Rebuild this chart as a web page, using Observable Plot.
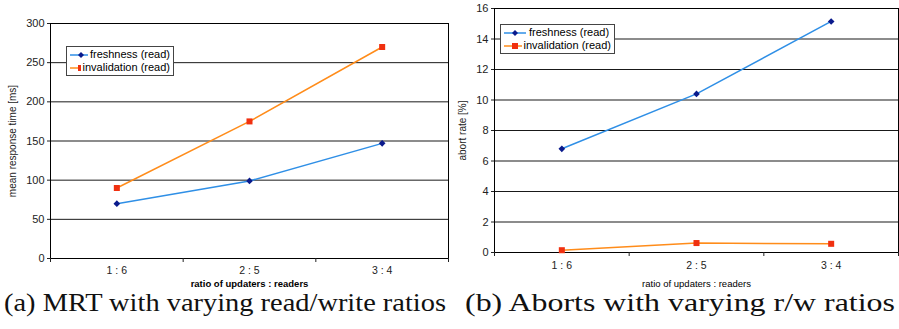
<!DOCTYPE html>
<html>
<head>
<meta charset="utf-8">
<script src="https://cdn.jsdelivr.net/npm/d3@7"></script>
<script src="https://cdn.jsdelivr.net/npm/@observablehq/plot@0.6"></script>
<style>
  html, body { margin: 0; padding: 0; background: #fff; }
  #wrap { position: relative; width: 899px; height: 329px; overflow: hidden; }
  .panel { position: absolute; top: 0; }
  .legend { position: absolute; background: #fff; border: 1px solid #444; font: 11px "Liberation Sans", Arial, sans-serif; color: #000; padding: 1px 3px 1px 2px; line-height: 13px; }
  .legend div { display: flex; align-items: center; white-space: nowrap; }
  .legend svg { margin-right: 2px; }
  .caption { position: absolute; top: 290px; font-family: "Liberation Serif", serif; font-size: 25px; line-height: 25px; white-space: nowrap; transform-origin: left top; color: #111; }
</style>
</head>
<body>
<div id="wrap"></div>
<script>
const categories = ["1 : 6", "2 : 5", "3 : 4"];
const seriesNames = ["freshness (read)", "invalidation (read)"];
const mrtFreshness = [70, 99, 147];
const mrtInvalidation = [90, 175, 270];
const abortFreshness = [6.8, 10.4, 15.15];
const abortInvalidation = [0.15, 0.62, 0.57];
const mrtTicks = [0, 50, 100, 150, 200, 250, 300];
const abortTicks = [0, 2, 4, 6, 8, 10, 12, 14, 16];
const xLabel = "ratio of updaters : readers";
const captions = ["(a) MRT with varying read/write ratios", "(b) Aborts with varying r/w ratios"];

const lineColors = ["#2f8fe6", "#ff8c1a"];
const markColors = ["#0a1a8c", "#f03010"];

function rows(a, b) {
  const out = [];
  a.forEach((v, i) => out.push({cat: i + 1, value: v, series: seriesNames[0]}));
  b.forEach((v, i) => out.push({cat: i + 1, value: v, series: seriesNames[1]}));
  return out;
}

function chart({data, ticks, yLabel, width, height, ml, mr, mt, mb, boldX, yLabelX, tickPad, xLabelY}) {
  const bounds = d3.range(0.5, categories.length + 1, 1);
  return Plot.plot({
    width, height,
    marginLeft: ml, marginRight: mr, marginTop: mt, marginBottom: mb,
    style: {fontFamily: "'Liberation Sans', Arial, sans-serif", fontSize: "11px", color: "#222", overflow: "visible"},
    x: {domain: [0.5, categories.length + 0.5], axis: null},
    y: {domain: [ticks[0], ticks[ticks.length - 1]], axis: null},
    color: {domain: seriesNames, range: lineColors},
    marks: [
      Plot.gridY(ticks, {stroke: "#000", strokeOpacity: 0.9}),
      Plot.frame({stroke: "#000"}),
      Plot.axisY({ticks, tickSize: 3, tickPadding: 3, label: null, fontSize: 11}),
      Plot.text([yLabel], {frameAnchor: "left", textAnchor: "middle", rotate: -90, dx: -ml + yLabelX, fontSize: 10, fill: "#222"}),
      Plot.axisX({ticks: bounds, tickSize: 4, tickFormat: () => "", label: null}),
      Plot.axisX({ticks: d3.range(1, categories.length + 1), tickSize: 0, tickPadding: tickPad, tickFormat: d => categories[d - 1], label: null, fontSize: 10.5}),
      Plot.text([xLabel], {frameAnchor: "bottom", dy: xLabelY - (height - mb), fontSize: 9.5, fontWeight: boldX ? "bold" : "normal", fill: "#000", lineAnchor: "middle"}),
      Plot.line(data, {x: "cat", y: "value", z: "series", stroke: "series", strokeWidth: 1.5}),
      Plot.dot(data.filter(d => d.series === seriesNames[0]), {x: "cat", y: "value", symbol: "diamond2", r: 3, fill: markColors[0], stroke: "none"}),
      Plot.dot(data.filter(d => d.series === seriesNames[1]), {x: "cat", y: "value", symbol: "square", r: 3.4, fill: markColors[1], stroke: "none"})
    ]
  });
}

const wrap = document.getElementById("wrap");

function panel(left, node) {
  const d = document.createElement("div");
  d.className = "panel";
  d.style.left = left + "px";
  d.appendChild(node);
  wrap.appendChild(d);
}

panel(0, chart({data: rows(mrtFreshness, mrtInvalidation), ticks: mrtTicks, yLabel: "mean response time [ms]",
  width: 450, height: 292, ml: 50, mr: 2, mt: 23, mb: 34, boldX: true, yLabelX: 12, tickPad: 8, xLabelY: 283}));
panel(450, chart({data: rows(abortFreshness, abortInvalidation), ticks: abortTicks, yLabel: "abort rate [%]",
  width: 449, height: 292, ml: 44, mr: 1, mt: 8, mb: 40, boldX: false, yLabelX: 12, tickPad: 9, xLabelY: 283}));

function legend(left, top, width) {
  const lg = document.createElement("div");
  lg.className = "legend";
  lg.style.left = left + "px";
  lg.style.top = top + "px";
  lg.style.width = width + "px";
  seriesNames.forEach((name, i) => {
    const row = document.createElement("div");
    const sym = d3.create("svg").attr("width", 24).attr("height", 12);
    sym.append("line").attr("x1", 1).attr("x2", 23).attr("y1", 6).attr("y2", 6).attr("stroke", lineColors[i]).attr("stroke-width", 1.5);
    sym.append("path").attr("transform", "translate(12,6)" + (i === 0 ? " rotate(45)" : ""))
      .attr("d", d3.symbol(d3.symbolSquare, i === 0 ? 18 : 36)())
      .attr("fill", markColors[i]);
    row.appendChild(sym.node());
    const t = document.createElement("span");
    t.textContent = name;
    row.appendChild(t);
    lg.appendChild(row);
  });
  wrap.appendChild(lg);
}
legend(66, 46, 101);
legend(500, 24, 108);

captions.forEach((c, i) => {
  const s = document.createElement("div");
  s.className = "caption";
  s.textContent = c;
  s.style.left = (i === 0 ? 4 : 465) + "px";
  wrap.appendChild(s);
  const target = i === 0 ? 442 : 430;
  const w = s.getBoundingClientRect().width;
  s.style.transform = `scaleX(${target / w})`;
});
</script>
</body>
</html>
